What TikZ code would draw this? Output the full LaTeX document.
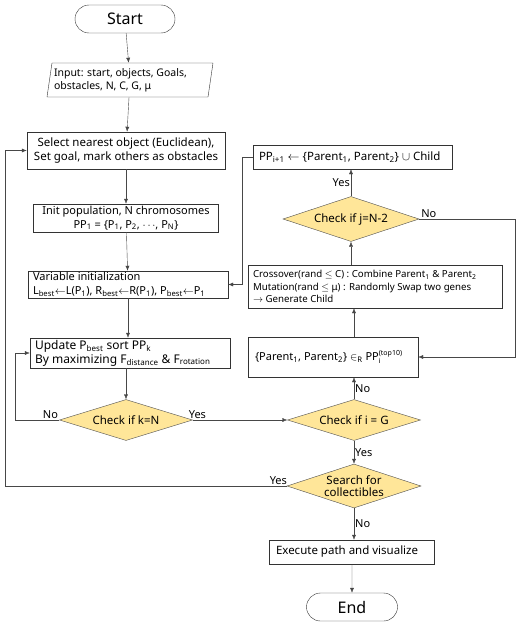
\documentclass[tikz,border=0pt]{standalone}
\usepackage{fontspec}
\setmainfont{Noto Sans}
\usetikzlibrary{shapes.geometric,shapes.misc,arrows.meta}
\definecolor{diafill}{HTML}{FFE699}
\definecolor{linegray}{HTML}{474747}
\newcommand{\sub}[1]{\textsubscript{#1}}
\tikzset{
	box/.style={draw=black!80,fill=white,rectangle,inner sep=0pt,font=\fontsize{11}{13.5}\selectfont},
	check/.style={draw=black!70,fill=diafill,diamond,aspect=3.3,inner sep=0pt,minimum width=133pt,minimum height=41pt,font=\fontsize{11.5}{12.5}\selectfont,align=center},
	term/.style={draw=black!80,fill=white,rounded rectangle,minimum width=100pt,minimum height=28pt,inner sep=0pt,font=\fontsize{16}{18}\selectfont},
	inbox/.style={draw=black!80,fill=white,trapezium,trapezium left angle=78,trapezium right angle=102,trapezium stretches body,minimum width=166pt,minimum height=34pt,inner sep=0pt,font=\fontsize{10.5}{13}\selectfont},
	flow/.style={draw=linegray,-{Latex[length=5pt,width=4pt]}},
	lbl/.style={font=\fontsize{11}{13}\selectfont,inner sep=1pt}
}
\begin{document}
\begin{tikzpicture}[x=1pt,y=-1pt]
		\useasboundingbox (0,0) rectangle (521,629);
		% left column
		\node[term] (start) at (125,19) {Start};
		\node[inbox] (input) at (130,80) {\parbox{152pt}{Input: start, objects, Goals,\\obstacles, N, C, G, μ}};
		\node[box,minimum width=198pt,minimum height=37pt,align=center,font=\fontsize{11.5}{14}\selectfont] (select) at (126,150.5) {Select nearest object (Euclidean),\\Set goal, mark others as obstacles};
		\node[box,minimum width=185pt,minimum height=28pt,align=center] (init) at (126,218) {Init population, N chromosomes\\PP\sub{1} = \{P\sub{1}, P\sub{2}, $\cdots$, P\sub{N}\}};
		\node[box,minimum width=200pt,minimum height=27pt] (varinit) at (128,284.5) {\parbox{190pt}{Variable initialization\\L\sub{best}$\leftarrow$L(P\sub{1}), R\sub{best}$\leftarrow$R(P\sub{1}), P\sub{best}$\leftarrow$P\sub{1}}};
		\node[box,minimum width=200pt,minimum height=30pt,font=\fontsize{12}{14}\selectfont] (update) at (130,353) {\parbox{190pt}{Update P\sub{best} sort PP\sub{k}\\By maximizing F\sub{distance} \& F\sub{rotation}}};
		\node[check] (checkk) at (126,420) {Check if k=N};
		% right column
		\node[box,minimum width=199pt,minimum height=24pt,font=\fontsize{11.5}{13}\selectfont] (ppnext) at (353,157) {\parbox{188pt}{PP\sub{i+1} $\leftarrow$ \{Parent\sub{1}, Parent\sub{2}\} $\cup$ Child}};
		\node[check,minimum width=136pt,minimum height=45pt] (checkj) at (351,219) {Check if j=N-2};
		\node[box,minimum width=254pt,minimum height=43pt,font=\fontsize{9.7}{12.5}\selectfont] (cross) at (375,286.5) {\parbox{244pt}{Crossover(rand $\le$ C) : Combine Parent\sub{1} \& Parent\sub{2}\\Mutation(rand $\le$ μ) : Randomly Swap two genes\\$\rightarrow$ Generate Child}};
		\node[box,minimum width=170pt,minimum height=40pt,font=\fontsize{11}{13}\selectfont] (parent) at (333,357) {\parbox{156pt}{\{Parent\sub{1}, Parent\sub{2}\} $\in$\sub{R} PP$_{\mbox{\scriptsize i}}^{\mbox{\scriptsize (top10)}}$}};
		\node[check] (checki) at (354,420) {Check if i = G};
		\node[check,minimum width=134pt,minimum height=44pt] (search) at (354,486) {Search for\\collectibles};
		\node[box,minimum width=165pt,minimum height=24pt,font=\fontsize{11.5}{13}\selectfont] (exec) at (352,552) {\parbox{152pt}{Execute path and visualize}};
		\node[term,minimum width=91pt] (end) at (352,607) {End};
		% corners of the loops
		\coordinate (kleft) at (15,420);
		\coordinate (sleft) at (5,486);
		\coordinate (jright) at (515,219);
		\coordinate (pleft) at (242,157);
		% straight arrows
		\draw[flow] (start) -- (input);
		\draw[flow] (input) -- (select);
		\draw[flow] (select) -- (init);
		\draw[flow] (init) -- (varinit);
		\draw[flow] (varinit) -- (update.north -| varinit);
		\draw[flow] (update.south -| checkk) -- (checkk);
		\draw[flow] (checkk) -- node[lbl,pos=0.05,above] {Yes} (checki);
		\draw[flow] (checki) -- node[lbl,pos=0.5,right] {No} (checki |- parent.south);
		\draw[flow] (parent.north -| checki) -- (cross.south -| checki);
		\draw[flow] (cross.north -| checkj) -- (checkj);
		\draw[flow] (checkj) -- node[lbl,left] {Yes} (ppnext.south -| checkj);
		\draw[flow] (checki) -- node[lbl,right] {Yes} (search);
		\draw[flow] (search) -- node[lbl,right] {No} (exec.north -| search);
		\draw[flow] (exec.south -| end) -- (end);
		% loops
		\draw[flow] (checkk) -- node[lbl,pos=0.2,above] {No} (kleft) |- (update);
		\draw[flow] (search) -- node[lbl,pos=0.03,above] {Yes} (sleft) |- (select);
		\draw[flow] (checkj) -- node[lbl,pos=0.1,above] {No} (jright) |- (parent);
		\draw[flow] (ppnext) -- (pleft) |- (varinit);
	\end{tikzpicture}
\end{document}
